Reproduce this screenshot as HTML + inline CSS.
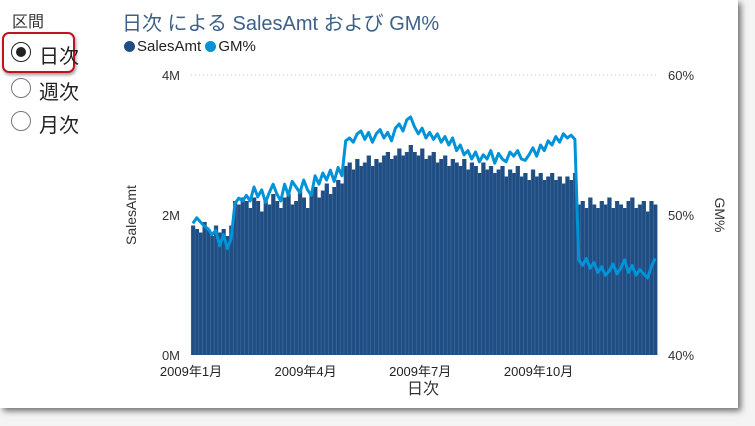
<!DOCTYPE html>
<html><head><meta charset="utf-8">
<style>
body{margin:0;width:755px;height:426px;background:#f4f4f4;overflow:hidden;font-family:"Liberation Sans","Noto Sans CJK JP",sans-serif;}
#frame{position:absolute;left:0;top:0;width:738px;height:408px;background:#fff;box-shadow:3px 3px 6px rgba(0,0,0,0.55);}
.t{position:absolute;white-space:nowrap;}
.radio{position:absolute;width:20px;height:20px;border:1.5px solid #777;border-radius:50%;box-sizing:border-box;background:#fff;}
</style></head><body>
<div id="frame"></div>
<div class="t" style="left:12px;top:8px;font-size:16px;color:#333">区間</div>
<div style="position:absolute;left:2px;top:32px;width:73px;height:41px;border:2.5px solid #c0131b;border-radius:7px;box-sizing:border-box;box-shadow:1px 2px 3px rgba(0,0,0,0.4)"></div>
<div class="radio" style="left:11px;top:42px;border-color:#222"><div style="position:absolute;left:3.5px;top:3.5px;width:10px;height:10px;border-radius:50%;background:#222"></div></div>
<div class="t" style="left:39px;top:40px;font-size:20px;color:#222">日次</div>
<div class="radio" style="left:11px;top:78px"></div>
<div class="t" style="left:39px;top:76px;font-size:20px;color:#222">週次</div>
<div class="radio" style="left:11px;top:111px"></div>
<div class="t" style="left:39px;top:109px;font-size:20px;color:#222">月次</div>

<div class="t" style="left:122px;top:7px;font-size:20px;color:#3e6189">日次 による SalesAmt および GM%</div>
<div class="t" style="left:124px;top:38px;font-size:15px;color:#222">
<span><span style="display:inline-block;width:11px;height:11px;border-radius:50%;background:#1f4e85;vertical-align:-1px;margin-right:2px"></span>SalesAmt</span>
<span><span style="display:inline-block;width:11px;height:11px;border-radius:50%;background:#0093d8;vertical-align:-1px;margin-right:2px"></span>GM%</span></div>

<svg id="chart" width="755" height="426" style="position:absolute;left:0;top:0"></svg>
<script>
const monthLabels=["2009年1月","2009年4月","2009年7月","2009年10月"];
const monthStartPeriod=[0,30,60,91];
const leftTicks=[0,2,4];
const rightTicks=[40,50,60];
const salesAmt=[1.85,1.8,1.75,1.9,1.8,1.7,1.85,1.75,1.8,1.7,1.85,
2.2,2.15,2.25,2.2,2.1,2.25,2.2,2.05,2.2,2.15,2.3,2.2,2.1,2.25,2.3,2.15,2.2,2.35,2.25,2.1,2.3,2.4,2.25,2.35,2.45,2.3,2.4,2.5,2.45,
2.7,2.75,2.65,2.8,2.7,2.75,2.85,2.7,2.8,2.75,2.85,2.9,2.8,2.85,2.95,2.85,2.9,3.0,2.9,2.85,2.95,2.8,2.85,2.9,2.75,2.8,2.85,2.7,2.8,2.75,2.7,2.8,2.65,2.75,2.7,2.6,2.75,2.65,2.7,2.6,2.65,2.7,2.55,2.65,2.6,2.7,2.55,2.6,2.5,2.65,2.55,2.6,2.5,2.55,2.6,2.5,2.55,2.45,2.55,2.5,2.6,
2.15,2.2,2.1,2.25,2.15,2.1,2.2,2.15,2.25,2.1,2.2,2.15,2.1,2.2,2.25,2.1,2.15,2.2,2.05,2.2,2.15];
const gmPct=[49.4,49.8,49.5,49.2,49.0,48.6,48.9,47.8,48.6,47.6,48.3,
50.8,51.2,51.0,51.4,51.0,52.0,51.3,51.8,50.9,51.6,52.2,51.5,51.0,52.2,51.4,52.4,52.0,51.6,52.5,51.8,51.4,52.8,52.2,53.0,52.5,53.2,52.4,53.4,52.8,
55.3,55.5,55.2,55.8,56.0,55.4,55.9,55.2,55.8,56.1,55.5,55.9,55.3,56.2,56.5,56.0,56.8,57.0,56.3,55.8,56.2,55.5,55.9,55.4,55.8,55.2,55.6,55.0,55.5,54.6,55.0,54.3,54.6,54.0,54.5,53.8,54.3,54.0,54.6,53.7,54.4,54.0,53.8,54.5,54.2,54.6,54.0,53.9,54.3,54.8,54.2,55.0,54.6,55.3,55.0,55.6,55.2,55.8,55.5,55.7,55.4,
46.8,46.4,46.9,46.2,46.6,45.9,46.3,45.7,46.0,46.5,45.8,46.2,46.8,45.9,46.4,45.7,46.1,45.8,45.5,46.3,46.9];
const NS="http://www.w3.org/2000/svg";
const svg=document.getElementById('chart');
const X0=191,X1=657,YT=75,YB=355;
const n=salesAmt.length, bw=(X1-X0)/n;
const xs=i=>X0+i*bw;
const yL=v=>YB-(v/4)*(YB-YT);
const yR=v=>YB-((v-40)/20)*(YB-YT);
function mk(tag,attrs,parent){const e=document.createElementNS(NS,tag);for(const k in attrs)e.setAttribute(k,attrs[k]);(parent||svg).appendChild(e);return e;}
const g=mk('line',{x1:X0,x2:X1,y1:yL(4),y2:yL(4),stroke:'#ccc','stroke-dasharray':'1,3'});


salesAmt.forEach((v,i)=>{
 const r=mk('rect',{x:xs(i),y:yL(v),width:bw+0.4,height:YB-yL(v),fill:'#1f4e85'});
 
 
});
salesAmt.forEach((v,i)=>{
 const l=mk('line',{x1:xs(i)+0.2,x2:xs(i)+0.2,y1:yL(v),y2:YB,stroke:'#5f7fa5','stroke-width':0.4});
 
 
});
const pts=gmPct.map((v,i)=>(xs(i)+bw/2).toFixed(1)+','+yR(v).toFixed(1)).join(' ');
const pl=mk('polyline',{points:pts,fill:'none',stroke:'#0093d8','stroke-width':3,'stroke-linejoin':'round'});


function txt(s,x,y,anchor,size,color,name,rot){
 const t=mk('text',{x:x,y:y,'text-anchor':anchor,'font-size':size,fill:color,'font-family':'"Liberation Sans","Noto Sans CJK JP",sans-serif'});
 if(rot)t.setAttribute('transform','rotate('+rot+' '+x+' '+y+')');
 t.textContent=s;
 
 
 return t;
}
leftTicks.forEach(v=>txt(v+'M',180,yL(v)+5,'end',13,'#333','y-left-tick'));
rightTicks.forEach(v=>txt(v+'%',668,yR(v)+5,'start',13,'#333','y-right-tick'));
monthLabels.forEach((s,i)=>txt(s,xs(monthStartPeriod[i]),376,'middle',13,'#222','x-tick'));
txt('日次',423,394,'middle',16,'#333','x-axis-title');
txt('SalesAmt',136,215,'middle',14,'#333','y-left-axis-title',-90);
txt('GM%',715,215,'middle',14,'#333','y-right-axis-title',90);
</script>
</body></html>
